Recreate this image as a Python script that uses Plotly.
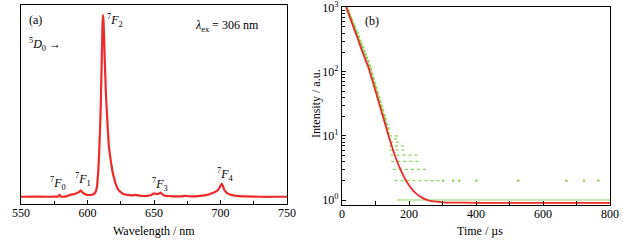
import plotly.graph_objects as go

# ---------------- data: (a) emission spectrum ----------------
wavelength = [550, 560, 570, 575, 578, 579, 580, 584, 587, 590, 592, 594, 595, 596, 598, 600,
              602, 604, 606, 607, 608, 609, 610, 611, 611.5, 612, 613, 614, 615, 616, 617, 618,
              619, 620, 621, 622, 623, 625, 627, 630, 634, 636, 640, 645, 648, 650, 652, 654,
              655, 656, 658, 662, 670, 674, 678, 685, 690, 694, 697, 699, 700, 701, 702, 703,
              705, 708, 712, 720, 730, 740, 750]
intensity = [0.020, 0.021, 0.020, 0.021, 0.022, 0.030, 0.022, 0.022, 0.030, 0.035, 0.040, 0.048,
             0.055, 0.045, 0.035, 0.030, 0.030, 0.032, 0.045, 0.070, 0.150, 0.300, 0.520, 0.850,
             1.000, 0.970, 0.750, 0.550, 0.420, 0.300, 0.240, 0.190, 0.150, 0.120, 0.095, 0.075,
             0.060, 0.045, 0.035, 0.030, 0.028, 0.030, 0.025, 0.025, 0.030, 0.038, 0.035, 0.038,
             0.042, 0.035, 0.026, 0.024, 0.022, 0.025, 0.022, 0.025, 0.030, 0.040, 0.050, 0.065,
             0.080, 0.090, 0.075, 0.055, 0.040, 0.030, 0.025, 0.022, 0.020, 0.020, 0.020]

# ---------------- data: (b) decay curve ----------------
decay_t = [2, 6, 10, 14, 18, 22, 26, 30, 34, 38, 42, 46, 50, 54, 58, 62, 66, 70, 74, 78, 82,
           86, 90, 94, 98, 102, 106, 110, 114, 118, 122, 126, 130, 134, 138]
decay_i = [1400, 1300, 1150, 1000, 900, 800, 700, 640, 560, 500, 440, 400, 350, 300, 270, 240,
           210, 185, 165, 145, 125, 110, 92, 78, 66, 56, 47, 40, 34, 29, 25, 21, 18, 15, 13]
decay_i_low = [1380, 1250, 1100, 980, 860, 760, 670, 590, 520, 460, 405, 360, 315, 275, 245, 215,
               190, 165, 145, 128, 112, 96, 82, 70, 60, 50, 42, 36, 30, 26, 22, 19, 16, 13, 11]

# quantised low-count rows of the measured decay (count level, first and last time)
row_level = [10, 9, 8, 7, 6, 5, 4, 3, 2]
row_start = [140, 138, 143, 140, 142, 145, 147, 152, 157]
row_end = [168, 172, 180, 185, 190, 225, 232, 252, 292]
base_level = 1
base_start, base_end = 164, 800
sparse_t = [302, 332, 350, 401, 526, 670, 722, 765]
sparse_level = [2, 2, 2, 2, 2, 2, 2, 2]

# fitted curve
fit_t = [0, 10, 20, 30, 40, 50, 60, 70, 80, 90, 100, 110, 120, 130, 140, 150, 160, 170, 180,
         190, 200, 210, 220, 230, 240, 250, 260, 280, 300, 350, 400, 500, 600, 700, 800]
fit_i = [1550, 1100, 800, 570, 410, 296, 210, 153, 112, 75, 50, 33, 22, 14.5, 9.7, 6.6, 4.6,
         3.4, 2.6, 2.05, 1.7, 1.45, 1.28, 1.16, 1.08, 1.02, 0.98, 0.94, 0.92, 0.91, 0.905,
         0.90, 0.90, 0.90, 0.90]

RED = "#ee2a2a"
GREEN = "#8ed463"
FONT = "Liberation Serif"

fig = go.Figure()

fig.add_trace(go.Scatter(x=wavelength, y=intensity, mode="lines",
                         line=dict(color=RED, width=2.2, shape="spline", smoothing=0.6),
                         xaxis="x", yaxis="y", showlegend=False))

# measured decay
rx, ry = [], []
for lv, s, e in zip(row_level, row_start, row_end):
    rx += [s, e, None]
    ry += [lv, lv, None]
fig.add_trace(go.Scatter(x=rx, y=ry, mode="lines",
                         line=dict(color=GREEN, width=1.3, dash="dot"),
                         xaxis="x2", yaxis="y2", showlegend=False))
fig.add_trace(go.Scatter(x=[base_start, base_end], y=[base_level, base_level], mode="lines",
                         line=dict(color=GREEN, width=1.2),
                         xaxis="x2", yaxis="y2", showlegend=False))
fig.add_trace(go.Scatter(x=sparse_t, y=sparse_level, mode="markers",
                         marker=dict(color=GREEN, size=2.5),
                         xaxis="x2", yaxis="y2", showlegend=False))
fig.add_trace(go.Scatter(x=decay_t + decay_t, y=decay_i + decay_i_low, mode="markers",
                         marker=dict(color=GREEN, size=3),
                         xaxis="x2", yaxis="y2", showlegend=False))
fig.add_trace(go.Scatter(x=fit_t, y=fit_i, mode="lines",
                         line=dict(color=RED, width=1.8, shape="spline"),
                         xaxis="x2", yaxis="y2", showlegend=False))

W, H = 623, 242
L1, R1, T1, B1 = 21, 287, 5, 204
L2, R2, T2, B2 = 342, 610, 7.3, 205

axis_common = dict(showline=True, linecolor="black", linewidth=1.2, mirror=True,
                   showgrid=False, zeroline=False, automargin=False,
                   ticklabeloverflow="allow",
                   tickfont=dict(family=FONT, size=12, color="black"))

fig.update_layout(
    width=W, height=H, margin=dict(l=0, r=0, t=0, b=0, autoexpand=False),
    paper_bgcolor="white", plot_bgcolor="white",
    xaxis=dict(domain=[L1 / W, R1 / W], range=[550, 750], tickvals=[550, 600, 650, 700, 750],
               ticks="inside", ticklen=4, tickcolor="black", ticklabelstandoff=-3,
               minor=dict(tickvals=[575, 625, 675, 725], ticks="inside", ticklen=3, tickcolor="black"),
               anchor="y", **axis_common),
    yaxis=dict(domain=[1 - B1 / H, 1 - T1 / H], range=[-0.019, 1.054], showticklabels=False,
               ticks="", anchor="x", **axis_common),
    xaxis2=dict(domain=[L2 / W, R2 / W], range=[0, 800], tickvals=[0, 200, 400, 600, 800],
                ticks="inside", ticklen=4, tickcolor="black", ticklabelstandoff=-3,
                minor=dict(tickvals=[100, 300, 500, 700], ticks="inside", ticklen=4, tickcolor="black"),
                anchor="y2", **axis_common),
    yaxis2=dict(domain=[1 - B2 / H, 1 - T2 / H], type="log", range=[-0.078, 3.004],
                tickvals=[1, 10, 100, 1000],
                ticktext=["10<sup>0</sup>", "10<sup>1</sup>", "10<sup>2</sup>", "10<sup>3</sup>"],
                ticks="inside", ticklen=4, tickcolor="black",
                minor=dict(tickvals=[2, 3, 4, 5, 6, 7, 8, 9, 20, 30, 40, 50, 60, 70, 80, 90,
                                     200, 300, 400, 500, 600, 700, 800, 900],
                           ticks="inside", ticklen=2.5, tickcolor="black"),
                anchor="x2", **axis_common),
)

f = dict(family=FONT, size=12, color="black")
ann = [
    dict(x=620.7, y=0.968, xref="x", yref="y", text="<sup>7</sup><i>F</i><sub>2</sub>"),
    dict(x=577.8, y=0.094, xref="x", yref="y", text="<sup>7</sup><i>F</i><sub>0</sub>"),
    dict(x=596.6, y=0.115, xref="x", yref="y", text="<sup>7</sup><i>F</i><sub>1</sub>"),
    dict(x=654.5, y=0.088, xref="x", yref="y", text="<sup>7</sup><i>F</i><sub>3</sub>"),
    dict(x=704.1, y=0.142, xref="x", yref="y", text="<sup>7</sup><i>F</i><sub>4</sub>"),
    dict(x=0.056, y=0.925, xref="x domain", yref="y domain", text="(a)"),
    dict(x=0.09, y=0.804, xref="x domain", yref="y domain", text="<sup>5</sup><i>D</i><sub>0</sub> →"),
    dict(x=0.774, y=0.894, xref="x domain", yref="y domain",
         text="<i>λ</i><sub>ex</sub> = 306 nm"),
    dict(x=0.112, y=0.93, xref="x2 domain", yref="y2 domain", text="(b)"),
    dict(x=154 / W, y=1 - 231 / H, xref="paper", yref="paper", text="Wavelength / nm"),
    dict(x=480 / W, y=1 - 231 / H, xref="paper", yref="paper", text="Time / µs"),
    dict(x=316 / W, y=1 - 104 / H, xref="paper", yref="paper", text="Intensity / a.u.", textangle=-90),
]
for a in ann:
    a.update(showarrow=False, font=f, xanchor="center", yanchor="middle")
fig.update_layout(annotations=ann)

fig.write_html("out.html", config={"displayModeBar": False},
               post_script="document.body.style.margin='0px';document.body.style.padding='0px';")
